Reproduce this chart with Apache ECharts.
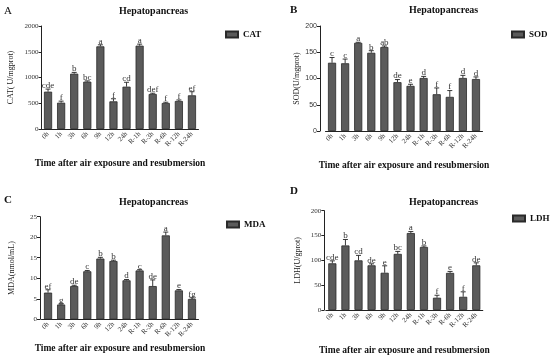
<!DOCTYPE html>
<html><head><meta charset="utf-8">
<script src="https://cdn.jsdelivr.net/npm/echarts@6/dist/echarts.min.js"></script>
<style>html,body{margin:0;padding:0;background:#fff}#c{width:550px;height:357px}</style>
</head><body><div id="c"></div>
<script>
const categories = ['0h','1h','3h','6h','9h','12h','24h','R-1h','R-3h','R-6h','R-12h','R-24h'];

const catValues  = [725, 511, 1074, 919, 1605, 537, 822, 1618, 680, 505, 544, 654];
const catErrors  = [50, 30, 25, 15, 30, 50, 85, 30, 15, 15, 20, 70];
const catLetters = ['cde','f','b','bc','a','f','cd','a','def','f','f','ef'];

const sodValues  = [130, 129, 168, 149, 160, 93, 86, 101, 70, 65, 101, 99];
const sodErrors  = [10, 8, 1, 4, 2, 5, 3, 3, 12, 12, 5, 4];
const sodLetters = ['c','c','a','b','ab','de','e','d','f','f','d','d'];

const mdaValues  = [6.5, 3.6, 8.1, 11.7, 14.8, 14.2, 9.5, 11.9, 8.1, 20.45, 7.05, 4.95];
const mdaErrors  = [0.7, 0.2, 0.2, 0.2, 0.3, 0.2, 0.2, 0.2, 1.5, 0.8, 0.2, 0.3];
const mdaLetters = ['ef','g','de','c','b','b','d','c','de','a','e','fg'];

const ldhValues  = [94, 130, 100, 90, 75, 113, 155, 127, 24.7, 74.7, 26.6, 90];
const ldhErrors  = [5, 12, 10, 3, 14, 5, 3, 2, 5, 3, 10, 5];
const ldhLetters = ['cde','b','cd','de','e','bc','a','b','f','e','f','de'];

const yTicks = {CAT:[0,2000,500], SOD:[0,200,50], MDA:[0,25,5], LDH:[0,200,50]};

const SERIF = '"Liberation Serif","Times New Roman",serif';
const SANS = '"Liberation Sans",Arial,sans-serif';
const chart = echarts.init(document.getElementById('c'));

const panels = [
  {name:'CAT', v:catValues, e:catErrors, l:catLetters, ylab:'CAT( U/mgprot)', grid:{left:41.5, top:26, width:157, height:103}, yOff:0, tickFont:SERIF, nameGap:27, xGap:30},
  {name:'SOD', v:sodValues, e:sodErrors, l:sodLetters, ylab:'SOD(U/mgprot)', grid:{left:325.5, top:26, width:157, height:105}, yOff:5.5, tickFont:SANS, nameGap:19, xGap:30},
  {name:'MDA', v:mdaValues, e:mdaErrors, l:mdaLetters, ylab:'MDA(nmol/mL)', grid:{left:41.5, top:216.7, width:157, height:102.6}, yOff:1.5, tickFont:SERIF, nameGap:24, xGap:24},
  {name:'LDH', v:ldhValues, e:ldhErrors, l:ldhLetters, ylab:'LDH(U/gprot)', grid:{left:325.8, top:210.7, width:157, height:105.3}, yOff:1.5, tickFont:SERIF, nameGap:22, xGap:36}
];

const grids=[], xAxes=[], yAxes=[], series=[], legends=[];
const legendPos = [{left:220, top:25},{left:506, top:25},{left:221, top:215},{left:507, top:209}];

panels.forEach((p, k) => {
  grids.push(p.grid);
  xAxes.push({
    type:'category', gridIndex:k, data:categories,
    axisLine:{lineStyle:{color:'#222', width:1}},
    axisTick:{show:false},
    axisLabel:{rotate:45, fontSize:7, fontFamily:SERIF, color:'#333', margin:4, interval:0},
    name:'Time after air exposure and resubmersion', nameLocation:'middle', nameGap:p.xGap,
    nameTextStyle:{fontFamily:SERIF, fontWeight:'bold', fontSize:9.5, color:'#111'}
  });
  const t = yTicks[p.name];
  yAxes.push({
    type:'value', gridIndex:k, min:t[0], max:t[1], interval:t[2], offset:p.yOff,
    axisLine:{show:true, lineStyle:{color:'#222', width:1}},
    axisTick:{show:true, length:3, lineStyle:{color:'#222'}},
    splitLine:{show:false},
    axisLabel:{fontSize:7, fontFamily:p.tickFont, color:'#333', margin:3, formatter:v=>String(v)},
    name:p.ylab, nameLocation:'middle', nameGap:p.nameGap, nameRotate:90,
    nameTextStyle:{fontFamily:SERIF, fontSize:8, color:'#222'}
  });
  series.push({
    type:'bar', name:p.name, xAxisIndex:k, yAxisIndex:k, data:p.v, barWidth:'62%',
    itemStyle:{color:'#5b5b5b', borderColor:'#2a2a2a', borderWidth:0.8}
  });
  const letters = p.l;
  series.push({
    type:'custom', xAxisIndex:k, yAxisIndex:k, z:5,
    data:p.v.map((v,i)=>[i, v, p.e[i]]),
    renderItem:function(params, api){
      const i = api.value(0), v = api.value(1), e = api.value(2);
      const base = api.coord([i, v]);
      const top = api.coord([i, v + e]);
      const w = 2.5;
      return {type:'group', children:[
        {type:'line', shape:{x1:top[0], y1:base[1], x2:top[0], y2:top[1]}, style:{stroke:'#222', lineWidth:0.9}},
        {type:'line', shape:{x1:top[0]-w, y1:top[1], x2:top[0]+w, y2:top[1]}, style:{stroke:'#222', lineWidth:0.9}},
        {type:'text', x:top[0], y:top[1]+1, style:{text:letters[params.dataIndex], textAlign:'center', textVerticalAlign:'bottom', font:'9px ' + SERIF, fill:'#333'}}
      ]};
    }
  });
  legends.push({
    data:[{name:p.name, icon:'rect'}], left:legendPos[k].left, top:legendPos[k].top, itemWidth:12, itemHeight:6, itemGap:4,
    textStyle:{fontFamily:SERIF, fontWeight:'bold', fontSize:9, color:'#111'}
  });
});

const titleDefs = [
  {text:'Hepatopancreas', x:119, y:6}, {text:'Hepatopancreas', x:409, y:5},
  {text:'Hepatopancreas', x:119, y:197}, {text:'Hepatopancreas', x:409, y:197}
];
const letterDefs = [
  {text:'A', x:4, y:6, bold:false}, {text:'B', x:290, y:5, bold:true},
  {text:'C', x:4, y:195, bold:true}, {text:'D', x:290, y:186, bold:true}
];

chart.setOption({
  animation:false,
  grid:grids, xAxis:xAxes, yAxis:yAxes, series:series, legend:legends,
  graphic:[
    ...titleDefs.map(t=>({type:'text', left:t.x, top:t.y, style:{text:t.text, font:'bold 10px ' + SERIF, fill:'#111', textAlign:'center'}})),
    ...letterDefs.map(t=>({type:'text', left:t.x, top:t.y, style:{text:t.text, font:(t.bold?'bold ':'') + '11px ' + SERIF, fill:'#111'}}))
  ]
});
</script></body></html>
